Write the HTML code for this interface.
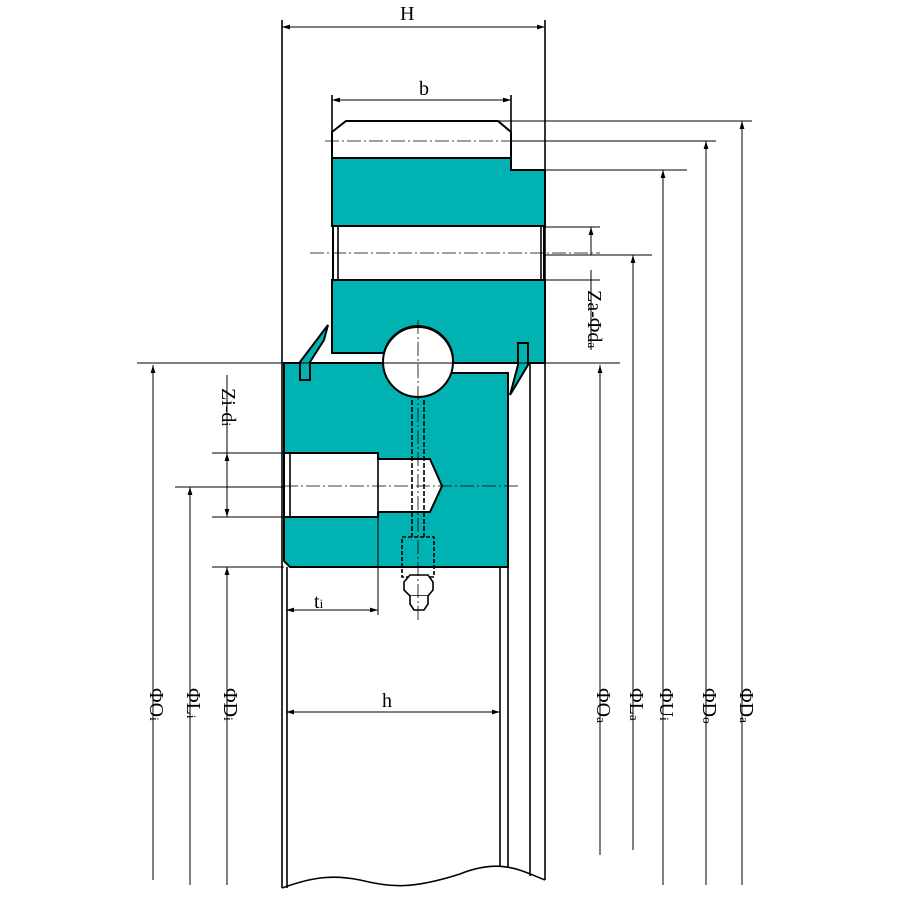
<!DOCTYPE html>
<html><head><style>body{margin:0;background:#fff}svg{display:block}text{font-family:"Liberation Serif",serif;fill:#000}</style></head>
<body>
<svg width="900" height="900" viewBox="0 0 900 900" xmlns="http://www.w3.org/2000/svg">
<defs><marker id="a" viewBox="0 0 10 6" refX="10" refY="3" markerWidth="8" markerHeight="5" orient="auto-start-reverse"><path d="M0,0L10,3L0,6z" fill="#000"/></marker></defs>
<g fill="#00b2b2" stroke="#000" stroke-width="2">
<path d="M332,158 H511 V170 H545 V226 H332 Z"/>
<path d="M332,280 H545 V363 H453 A35,35 0 0 0 384,353 H332 Z"/>
<path d="M284,363 H383 A35,35 0 0 0 451,373 H508 V567 H290 L284,561 Z"/>
<path d="M300,362 L328,325 L324,340 L310,362 V380 H300 Z"/>
<path d="M518,343 H528 V365 L510,395 L518,365 Z"/>
</g>
<g fill="#fff" stroke="#000" stroke-width="2">
<path d="M332,132 L346,121 H498 L511,132 V158 H332 Z"/>
<rect x="333" y="226" width="211" height="54"/>
<circle cx="418" cy="362" r="35"/>
<path d="M284,453 H378 V459 H430 L442,486 L430,512 H378 V517 H284 Z"/>
</g>
<g stroke="#000" fill="none" stroke-width="1.6">
<line x1="338" y1="226" x2="338" y2="280"/><line x1="541" y1="226" x2="541" y2="280"/>
<line x1="378" y1="453" x2="378" y2="517"/><line x1="290" y1="453" x2="290" y2="517"/>
<line x1="282" y1="20" x2="282" y2="888"/><line x1="287" y1="567" x2="287" y2="888"/>
<line x1="545" y1="20" x2="545" y2="880"/><line x1="530" y1="363" x2="530" y2="876"/>
<line x1="508" y1="567" x2="508" y2="868"/><line x1="500" y1="567" x2="500" y2="866"/>
<line x1="511" y1="95" x2="511" y2="132"/><line x1="332" y1="95" x2="332" y2="132"/>
<path d="M282,888 C310,878 330,874 360,880 C390,887 410,890 460,874 C500,858 520,870 545,880"/>
<rect x="402" y="537" width="32" height="40" stroke-dasharray="4,2"/>
<path d="M410,575 H428 L433,582 V590 L428,596 H410 L404,590 V582 Z" fill="#fff"/>
<path d="M410,596 V604 L414,610 H424 L428,604 V596" fill="#fff"/>
<line x1="412" y1="400" x2="412" y2="537" stroke-dasharray="5,2"/>
<line x1="424" y1="400" x2="424" y2="537" stroke-dasharray="5,2"/>
</g>
<g stroke="#000" stroke-width="1" fill="none">
<line x1="282" y1="27" x2="545" y2="27" marker-start="url(#a)" marker-end="url(#a)"/>
<line x1="332" y1="100" x2="511" y2="100" marker-start="url(#a)" marker-end="url(#a)"/>
<line x1="286" y1="712" x2="500" y2="712" marker-start="url(#a)" marker-end="url(#a)"/>
<line x1="286" y1="610" x2="378" y2="610" marker-start="url(#a)" marker-end="url(#a)"/>
<line x1="378" y1="517" x2="378" y2="615"/>
<line x1="498" y1="121" x2="752" y2="121"/><line x1="511" y1="141" x2="716" y2="141"/>
<line x1="545" y1="170" x2="687" y2="170"/><line x1="545" y1="255" x2="652" y2="255"/>
<line x1="545" y1="227" x2="600" y2="227"/><line x1="545" y1="280" x2="600" y2="280"/>
<line x1="137" y1="363" x2="620" y2="363"/>
<line x1="742" y1="121" x2="742" y2="885" marker-start="url(#a)"/>
<line x1="706" y1="141" x2="706" y2="885" marker-start="url(#a)"/>
<line x1="663" y1="170" x2="663" y2="885" marker-start="url(#a)"/>
<line x1="633" y1="255" x2="633" y2="850" marker-start="url(#a)"/>
<line x1="600" y1="365" x2="600" y2="855" marker-start="url(#a)"/>
<line x1="591" y1="227" x2="591" y2="255" marker-start="url(#a)"/>
<line x1="591" y1="270" x2="591" y2="350"/>
<line x1="153" y1="365" x2="153" y2="880" marker-start="url(#a)"/>
<line x1="190" y1="487" x2="190" y2="885" marker-start="url(#a)"/>
<line x1="227" y1="567" x2="227" y2="885" marker-start="url(#a)"/>
<line x1="227" y1="375" x2="227" y2="517" />
<line x1="227" y1="453" x2="227" y2="517" marker-start="url(#a)" marker-end="url(#a)"/>
<line x1="212" y1="453" x2="284" y2="453"/><line x1="212" y1="517" x2="284" y2="517"/>
<line x1="212" y1="567" x2="284" y2="567"/><line x1="175" y1="487" x2="284" y2="487"/>
</g>
<g stroke="#000" stroke-width="0.8" stroke-dasharray="14,3,2,3" fill="none">
<line x1="325" y1="141" x2="545" y2="141"/><line x1="310" y1="253" x2="600" y2="253"/>
<line x1="284" y1="486" x2="520" y2="486"/><line x1="418" y1="320" x2="418" y2="620"/>
</g>
<g font-size="20">
<text x="400" y="20">H</text><text x="419" y="95">b</text><text x="382" y="707">h</text>
<text x="314" y="608">t<tspan font-size="13">i</tspan></text>
<g transform="translate(588,290) rotate(90)"><text>Za-Φd<tspan font-size="13">a</tspan></text></g>
<g transform="translate(222,388) rotate(90)"><text>Zi-d<tspan font-size="13">i</tspan></text></g>
<g transform="translate(597,688) rotate(90)"><text>ΦO<tspan font-size="13">a</tspan></text></g>
<g transform="translate(630,688) rotate(90)"><text>ΦL<tspan font-size="13">a</tspan></text></g>
<g transform="translate(660,688) rotate(90)"><text>ΦU<tspan font-size="13">i</tspan></text></g>
<g transform="translate(703,688) rotate(90)"><text>ΦD<tspan font-size="13">o</tspan></text></g>
<g transform="translate(740,688) rotate(90)"><text>ΦD<tspan font-size="13">a</tspan></text></g>
<g transform="translate(150,688) rotate(90)"><text>ΦO<tspan font-size="13">i</tspan></text></g>
<g transform="translate(187,688) rotate(90)"><text>ΦL<tspan font-size="13">i</tspan></text></g>
<g transform="translate(224,688) rotate(90)"><text>ΦD<tspan font-size="13">i</tspan></text></g>
</g>
</svg>
</body></html>
